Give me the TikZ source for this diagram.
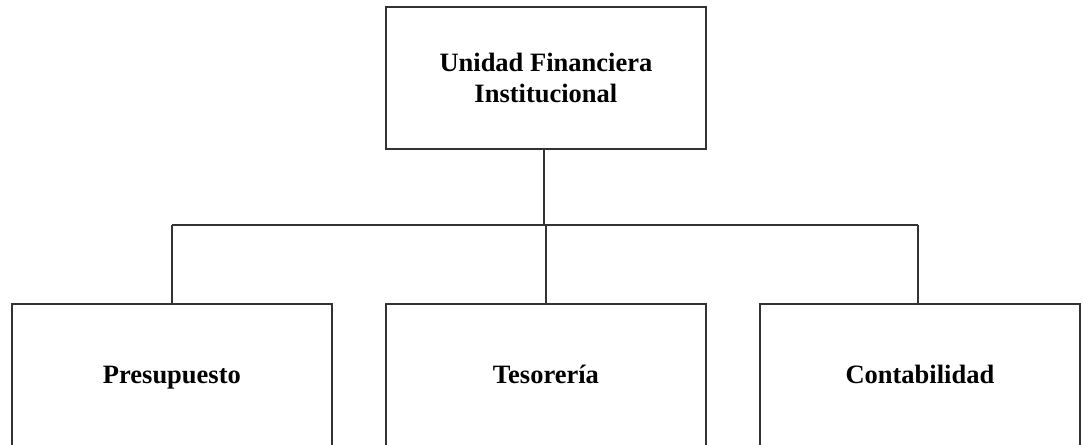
\documentclass[tikz,border=0pt]{standalone}
\usepackage{fontspec}
\setmainfont{Liberation Serif}
\begin{document}
\begin{tikzpicture}[x=1pt,y=-1pt,
  unit/.style={draw=black!80, line width=1.8pt, minimum width=320pt, minimum height=142pt,
    anchor=north west, inner sep=0pt, align=center,
    font=\fontsize{26.5}{31}\selectfont\bfseries},
  section/.style={unit, text height=21pt, text depth=3pt},
  link/.style={draw=black!80, line width=1.8pt}]
  \useasboundingbox (0,0) rectangle (1083,444);
  \clip (0,0) rectangle (1083,444);
  \node[unit] (ufi) at (385,6) {Unidad Financiera\\Institucional};
  \node[section] (pre) at (11,303) {Presupuesto};
  \node[section] (tes) at (385,303) {Tesorería};
  \node[section] (con) at (759,303) {Contabilidad};
  % bus joining the head unit with the three sections
  \coordinate (busL) at (172,225);
  \coordinate (busR) at (918,225);
  \coordinate (busM) at (544,225);
  \draw[link] (busM |- ufi.south) -- (busM);
  \draw[link] (busL) -- (busR);
  \draw[link] (busL) -- (busL |- pre.north);
  \draw[link] (tes.north) -- (tes.north |- busM);
  \draw[link] (busR) -- (busR |- con.north);
\end{tikzpicture}
\end{document}
